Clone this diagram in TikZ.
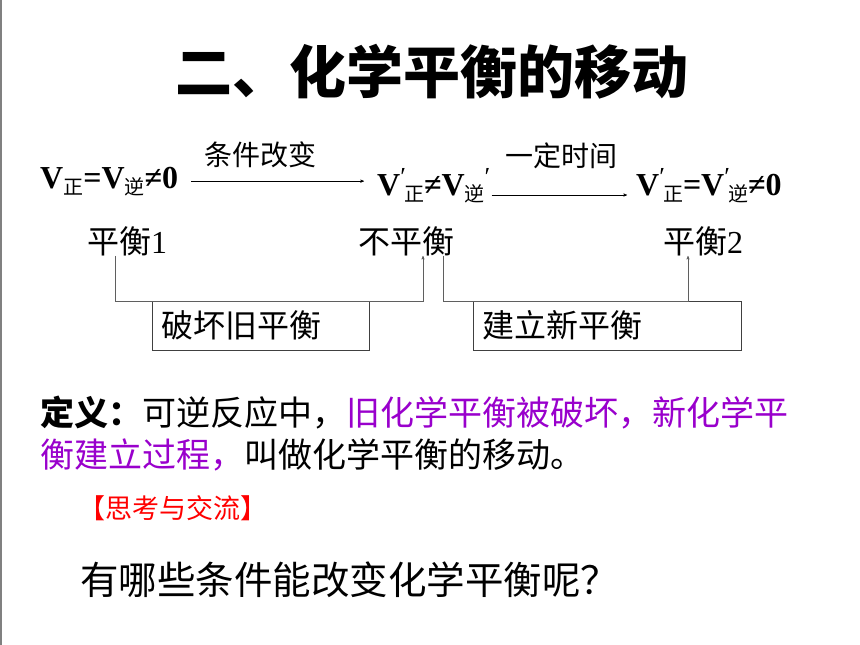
\documentclass[tikz,border=0pt]{standalone}
\usepackage{fontspec}
\setmainfont{Liberation Serif}
\newfontfamily\cjk{Noto Sans CJK SC}
\newfontfamily\vfont{Liberation Serif}
\usetikzlibrary{positioning,arrows}
\definecolor{defpurple}{RGB}{153,0,204}
\definecolor{linegray}{RGB}{95,95,95}
\newcommand{\vsub}[1]{\raisebox{-6pt}{\cjk\mdseries\fontsize{20}{20}\selectfont #1}}
\newcommand{\vpr}{\raisebox{10pt}{\mdseries\fontsize{26}{26}\selectfont ′}\kern-2pt}
\begin{document}
\begin{tikzpicture}
      [x=1pt,y=-1pt,
        >=stealth',
        title/.style={inner sep=0pt, font=\cjk\bfseries\fontsize{57}{57}\selectfont},
        formula/.style={inner sep=0pt, anchor=base west,
          font=\vfont\bfseries\fontsize{32}{32}\selectfont},
        note/.style={inner sep=0pt, font=\cjk\fontsize{28}{28}\selectfont},
        state/.style={inner sep=0pt, font=\cjk\fontsize{32}{32}\selectfont},
        stepbox/.style={
          draw=black!75, thin,
          anchor=north west,
          minimum height=49pt,
          inner xsep=9pt, inner ysep=0pt,
          align=left,
          font=\cjk\fontsize{32}{32}\selectfont},
        flow/.style={draw, thin, ->},
        link/.style={draw=linegray, thin, ->},
        defn/.style={inner sep=0pt, anchor=north west, align=left,
          font=\cjk\fontsize{34}{42}\selectfont},
        think/.style={inner sep=0pt, anchor=west, text=red,
          font=\cjk\fontsize{27}{27}\selectfont},
        ask/.style={inner sep=0pt, anchor=west,
          font=\cjk\fontsize{38.5}{38.5}\selectfont}]
      \useasboundingbox (0,0) rectangle (860,645);
      \draw[gray, line width=2pt] (1,0) -- (1,645);
      \node[title] (head) at (432,72) {二、化学平衡的移动};
      \node[formula] (v1) at (40,188) {V\vsub{正}=V\vsub{逆}≠0};
      \node[formula] (v2) at (377,195) {V\vpr\vsub{正}≠V\vsub{逆}\vpr};
      \node[formula] (v3) at (636,195) {V\vpr\vsub{正}=V\vpr\vsub{逆}≠0};
      \draw[flow] ([xshift=13pt]v1.east) -- ([xshift=-13pt]v1.east -| v2.west);
      \draw[flow] ([xshift=3pt]v2.base east) -- ([xshift=-9pt]v3.base west);
      \node[note] (change) at (260,155) {条件改变};
      \node[note] (time) at (561,156) {一定时间};
      \node[state] (eq1) at (127,241) {平衡{\vfont 1}};
      \node[state] (neq) at (406,241) {不平衡};
      \node[state] (eq2) at (703,241) {平衡{\vfont 2}};
      \node[stepbox, text width=199pt] (break) at (152,301) {破坏旧平衡};
      \node[stepbox, text width=250pt] (build) at (473,301) {建立新平衡};
      \coordinate (up1) at ([xshift=17pt]neq.south);
      \coordinate (dn2) at ([xshift=37pt]neq.south);
      \coordinate (up2) at ([xshift=-15pt]eq2.south);
      \draw[link] ([xshift=-12pt]eq1.south) |- (up1 |- break.north) -- (up1);
      \draw[link] (dn2) |- (up2 |- build.north) -- (up2);
      \node[defn] (def) at (40,396) {{\bfseries 定义：}可逆反应中，{\color{defpurple}旧化学平衡被破坏，新化学平}\\
        {\color{defpurple}衡建立过程，}叫做化学平衡的移动。};
      \node[think] (talk) at (78,508) {【思考与交流】};
      \node[ask] (question) at (80,580) {有哪些条件能改变化学平衡呢？};
    \end{tikzpicture}
\end{document}
